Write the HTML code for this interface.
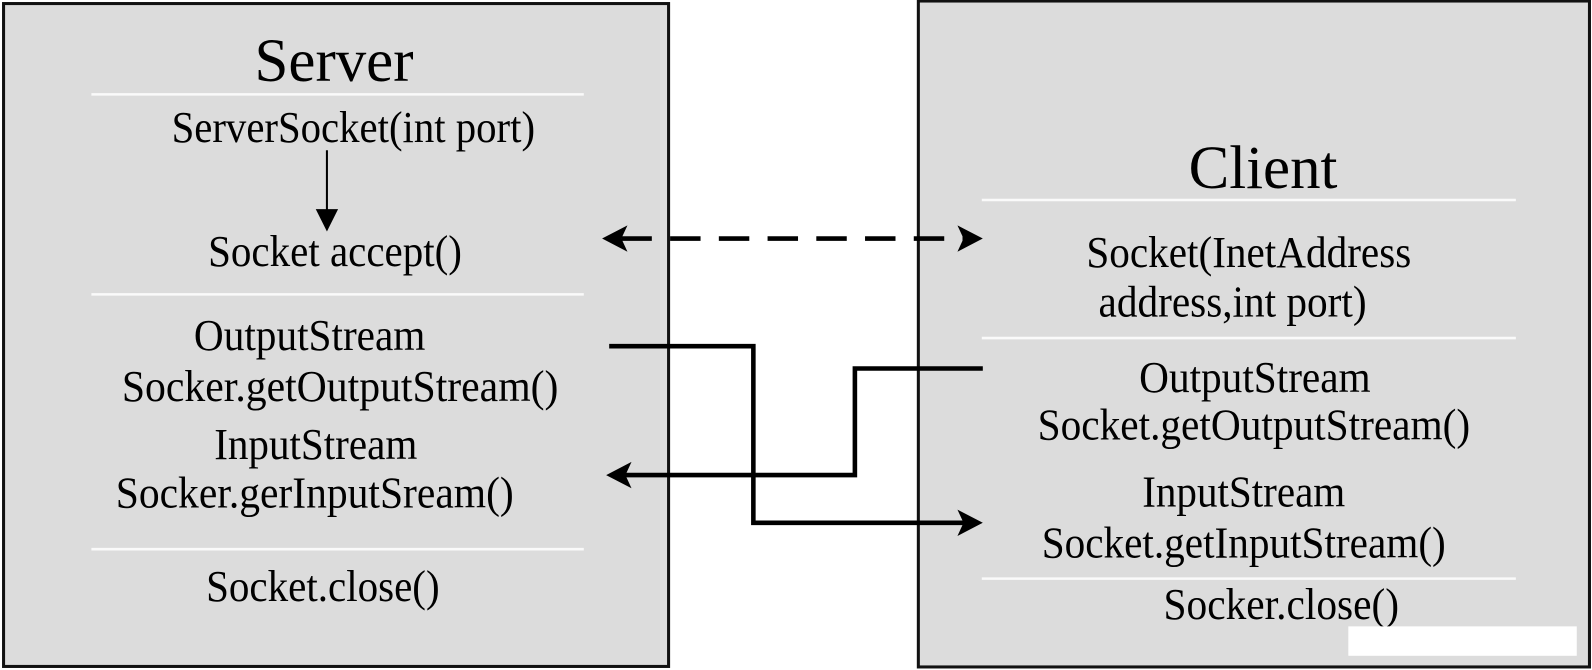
<!DOCTYPE html>
<html><head><meta charset="utf-8"><style>
html,body{margin:0;padding:0;background:#fff;}
svg{display:block;}
text{font-family:"Liberation Serif",serif;fill:#000;text-anchor:middle;}
</style></head><body>
<svg width="1592" height="670" viewBox="0 0 1568 660" preserveAspectRatio="none" xmlns="http://www.w3.org/2000/svg">
<rect x="0" y="0" width="1568" height="660" fill="#fff"/>
<rect x="3.5" y="3.5" width="655" height="653" fill="#dcdcdc" stroke="#111" stroke-width="3"/>
<rect x="904.5" y="1" width="661" height="656" fill="#dcdcdc" stroke="#111" stroke-width="3"/>
<g stroke="#fafafa" stroke-width="2.5">
<line x1="90" y1="93" x2="575" y2="93"/>
<line x1="90" y1="290" x2="575" y2="290"/>
<line x1="90" y1="541" x2="575" y2="541"/>
<line x1="967" y1="197" x2="1493" y2="197"/>
<line x1="967" y1="333" x2="1493" y2="333"/>
<line x1="967" y1="570" x2="1493" y2="570"/>
</g>
<text x="329" y="80" font-size="60">Server</text>
<text x="348" y="140" font-size="44" textLength="358" lengthAdjust="spacingAndGlyphs">ServerSocket(int port)</text>
<text x="330" y="262" font-size="44" textLength="250" lengthAdjust="spacingAndGlyphs">Socket accept()</text>
<text x="305" y="345" font-size="44" textLength="228" lengthAdjust="spacingAndGlyphs">OutputStream</text>
<text x="335" y="395" font-size="44" textLength="430" lengthAdjust="spacingAndGlyphs">Socker.getOutputStream()</text>
<text x="311" y="452" font-size="44" textLength="200" lengthAdjust="spacingAndGlyphs">InputStream</text>
<text x="310" y="500" font-size="44" textLength="392" lengthAdjust="spacingAndGlyphs">Socker.gerInputSream()</text>
<text x="318" y="592" font-size="44" textLength="230" lengthAdjust="spacingAndGlyphs">Socket.close()</text>
<text x="1244" y="185" font-size="60">Client</text>
<text x="1230" y="263" font-size="44" textLength="320" lengthAdjust="spacingAndGlyphs">Socket(InetAddress</text>
<text x="1214" y="312" font-size="44" textLength="264" lengthAdjust="spacingAndGlyphs">address,int port)</text>
<text x="1236" y="386" font-size="44" textLength="228" lengthAdjust="spacingAndGlyphs">OutputStream</text>
<text x="1235" y="433" font-size="44" textLength="426" lengthAdjust="spacingAndGlyphs">Socket.getOutputStream()</text>
<text x="1225" y="499" font-size="44" textLength="200" lengthAdjust="spacingAndGlyphs">InputStream</text>
<text x="1225" y="549" font-size="44" textLength="398" lengthAdjust="spacingAndGlyphs">Socket.getInputStream()</text>
<text x="1262" y="610" font-size="44" textLength="232" lengthAdjust="spacingAndGlyphs">Socker.close()</text>
<line x1="322" y1="148" x2="322" y2="212" stroke="#000" stroke-width="2"/>
<polygon points="311,206 333,206 322,228" fill="#000"/>
<line x1="612" y1="235" x2="950" y2="235" stroke="#000" stroke-width="4.5" stroke-dasharray="30,18"/>
<polygon points="593,235 618,222 612,235 618,248" fill="#000"/>
<polygon points="968,235 943,222 949,235 943,248" fill="#000"/>
<polyline points="600,341 742,341 742,515 950,515" fill="none" stroke="#000" stroke-width="4.5"/>
<polygon points="968,515 943,502 949,515 943,528" fill="#000"/>
<polyline points="968,363 842,363 842,468 615,468" fill="none" stroke="#000" stroke-width="4.5"/>
<polygon points="597,468 622,455 616,468 622,481" fill="#000"/>
<rect x="1328" y="617" width="225" height="29" fill="#fff"/>
</svg>
</body></html>
